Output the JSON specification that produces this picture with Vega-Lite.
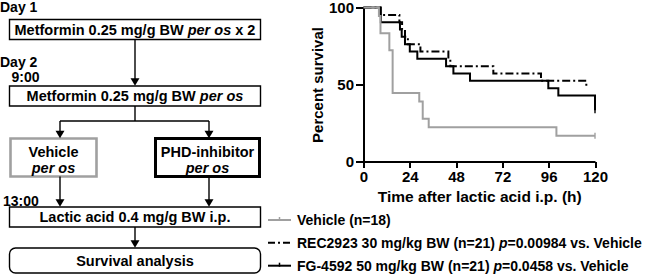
{
  "$schema": "https://vega.github.io/schema/vega-lite/v6.json",
  "width": 231.5,
  "height": 154,
  "autosize": {"type": "none"},
  "padding": {"left": 363.5, "top": 7.5, "right": 55, "bottom": 114.5},
  "background": "white",
  "config": {"view": {"stroke": null}, "font": "Liberation Sans"},
  "datasets": {
    "km": [
      {"group": "Vehicle", "time": 0, "surv": 100},
      {"group": "Vehicle", "time": 8, "surv": 94.4},
      {"group": "Vehicle", "time": 8.8, "surv": 83.3},
      {"group": "Vehicle", "time": 13.4, "surv": 72.2},
      {"group": "Vehicle", "time": 15.1, "surv": 44.4},
      {"group": "Vehicle", "time": 28.9, "surv": 38.9},
      {"group": "Vehicle", "time": 30.7, "surv": 27.8},
      {"group": "Vehicle", "time": 33.8, "surv": 22.2},
      {"group": "Vehicle", "time": 100, "surv": 16.7},
      {"group": "Vehicle", "time": 120, "surv": 16.7},
      {"group": "REC2923", "time": 0, "surv": 100},
      {"group": "REC2923", "time": 9, "surv": 95.2},
      {"group": "REC2923", "time": 18.6, "surv": 90.5},
      {"group": "REC2923", "time": 20, "surv": 85.7},
      {"group": "REC2923", "time": 21.5, "surv": 81},
      {"group": "REC2923", "time": 23, "surv": 76.2},
      {"group": "REC2923", "time": 29.5, "surv": 71.4},
      {"group": "REC2923", "time": 44, "surv": 66.7},
      {"group": "REC2923", "time": 45, "surv": 61.9},
      {"group": "REC2923", "time": 67.3, "surv": 57.1},
      {"group": "REC2923", "time": 92, "surv": 52.4},
      {"group": "REC2923", "time": 115.5, "surv": 47.6},
      {"group": "FG-4592", "time": 0, "surv": 100},
      {"group": "FG-4592", "time": 8.6, "surv": 95.2},
      {"group": "FG-4592", "time": 9, "surv": 90.5},
      {"group": "FG-4592", "time": 18.9, "surv": 85.7},
      {"group": "FG-4592", "time": 19.8, "surv": 81},
      {"group": "FG-4592", "time": 21.5, "surv": 76.2},
      {"group": "FG-4592", "time": 24, "surv": 71.4},
      {"group": "FG-4592", "time": 27.9, "surv": 66.7},
      {"group": "FG-4592", "time": 42.8, "surv": 61.9},
      {"group": "FG-4592", "time": 46.6, "surv": 57.1},
      {"group": "FG-4592", "time": 55.2, "surv": 52.4},
      {"group": "FG-4592", "time": 95.8, "surv": 47.6},
      {"group": "FG-4592", "time": 101, "surv": 42.9},
      {"group": "FG-4592", "time": 120, "surv": 33.3}
    ],
    "censor": [
      {"group": "Vehicle", "time": 120, "surv": 16.7},
      {"group": "FG-4592", "time": 120, "surv": 33.3}
    ],
    "thinBoxes": [
      {"x": 9.5, "x2": 260.5, "y": 19.5, "y2": 39.5},
      {"x": 9.5, "x2": 260.5, "y": 86, "y2": 106},
      {"x": 9.5, "x2": 260.5, "y": 207, "y2": 227}
    ],
    "grayBox": [{"x": 10.5, "x2": 96.5, "y": 138.5, "y2": 176.5}],
    "thickBox": [{"x": 155.5, "x2": 259.5, "y": 138.5, "y2": 176.5}],
    "roundBox": [{"x": 9.5, "x2": 260.5, "y": 248, "y2": 273}],
    "vLines": [
      {"x": 135, "y": 39.5, "y2": 81},
      {"x": 135, "y": 106, "y2": 121},
      {"x": 60, "y": 121, "y2": 134},
      {"x": 209, "y": 121, "y2": 134},
      {"x": 60, "y": 176.5, "y2": 203},
      {"x": 209, "y": 176.5, "y2": 203},
      {"x": 135, "y": 227, "y2": 244}
    ],
    "hLines": [{"x": 60, "x2": 209, "y": 121}],
    "heads": [
      {"x": 135, "y": 82},
      {"x": 60, "y": 134.5},
      {"x": 209, "y": 134.5},
      {"x": 60, "y": 203},
      {"x": 209, "y": 203},
      {"x": 135, "y": 244}
    ],
    "boldCenter": [
      {"x": 53.5, "y": 156.5, "t": "Vehicle"},
      {"x": 207.5, "y": 156.5, "t": "PHD-inhibitor"},
      {"x": 135, "y": 222, "t": "Lactic acid 0.4 mg/g BW i.p."},
      {"x": 135, "y": 265.5, "t": "Survival analysis"}
    ],
    "italicCenter": [
      {"x": 53.5, "y": 172.5, "t": "per os"},
      {"x": 207.5, "y": 172.5, "t": "per os"}
    ],
    "boldLeft": [
      {"x": 14.5, "y": 34.7, "t": "Metformin 0.25 mg/g BW"},
      {"x": 235.2, "y": 34.7, "t": "x 2"},
      {"x": 26.6, "y": 101.2, "t": "Metformin 0.25 mg/g BW"}
    ],
    "italicLeft": [
      {"x": 187.7, "y": 34.7, "t": "per os"},
      {"x": 199.8, "y": 101.2, "t": "per os"}
    ],
    "dayLabels": [
      {"x": 0, "y": 11.7, "t": "Day 1"},
      {"x": 0, "y": 66.7, "t": "Day 2"},
      {"x": 11.5, "y": 81.5, "t": "9:00"},
      {"x": 3, "y": 205.5, "t": "13:00"}
    ],
    "legText": [
      {"x": 297, "y": 225, "t": "Vehicle (n=18)"},
      {"x": 297, "y": 247.7, "t": "REC2923 30 mg/kg BW (n=21)"},
      {"x": 507.5, "y": 247.7, "t": "=0.00984 vs. Vehicle"},
      {"x": 297, "y": 270.7, "t": "FG-4592 50 mg/kg BW (n=21)"},
      {"x": 502, "y": 270.7, "t": "=0.0458 vs. Vehicle"}
    ],
    "legItalic": [
      {"x": 498.9, "y": 247.7, "t": "p"},
      {"x": 493.4, "y": 270.7, "t": "p"}
    ],
    "legGray": [{"x": 268, "x2": 291, "y": 220}],
    "legDash": [{"x": 268, "x2": 291, "y": 242.7}],
    "legSolid": [{"x": 268, "x2": 291, "y": 265.7}],
    "legGrayTick": [{"x": 279.5, "y": 217, "y2": 221}],
    "legSolidTick": [{"x": 279.5, "y": 262.7, "y2": 266.7}]
  },
  "layer": [
    {
      "layer": [
        {
          "data": {"name": "km"},
          "transform": [{"filter": "datum.group === 'REC2923'"}],
          "mark": {"type": "line", "interpolate": "step-after", "color": "black", "strokeWidth": 2, "strokeDash": [8, 3, 2, 3]},
          "encoding": {
            "x": {"field": "time", "type": "quantitative", "scale": {"domain": [0, 120], "nice": false},
              "axis": {"values": [0, 24, 48, 72, 96, 120], "title": "Time after lactic acid i.p. (h)", "grid": false,
                "domainColor": "black", "domainWidth": 2, "tickColor": "black", "tickWidth": 2, "tickSize": 6,
                "labelFont": "Liberation Sans", "labelFontSize": 15, "labelFontWeight": "bold", "labelColor": "black", "labelPadding": 2, "labelFlush": false,
                "titleFont": "Liberation Sans", "titleFontSize": 15.5, "titleFontWeight": "bold", "titleColor": "black", "titlePadding": 5}},
            "y": {"field": "surv", "type": "quantitative", "scale": {"domain": [0, 100], "nice": false},
              "axis": {"values": [0, 25, 50, 75, 100], "title": "Percent survival", "grid": false,
                "domainColor": "black", "domainWidth": 2, "tickColor": "black", "tickWidth": 2, "tickSize": 8,
                "labelFont": "Liberation Sans", "labelFontSize": 15, "labelFontWeight": "bold", "labelColor": "black", "labelPadding": 2, "labelFlush": false,
                "titleFont": "Liberation Sans", "titleFontSize": 15, "titleFontWeight": "bold", "titleColor": "black", "titlePadding": 3}}
          }
        },
        {
          "data": {"name": "km"},
          "transform": [{"filter": "datum.group === 'FG-4592'"}],
          "mark": {"type": "line", "interpolate": "step-after", "color": "black", "strokeWidth": 2},
          "encoding": {
            "x": {"field": "time", "type": "quantitative"},
            "y": {"field": "surv", "type": "quantitative"}
          }
        },
        {
          "data": {"name": "km"},
          "transform": [{"filter": "datum.group === 'Vehicle'"}],
          "mark": {"type": "line", "interpolate": "step-after", "color": "#a0a0a0", "strokeWidth": 2},
          "encoding": {
            "x": {"field": "time", "type": "quantitative"},
            "y": {"field": "surv", "type": "quantitative"}
          }
        },
        {
          "data": {"name": "censor"},
          "mark": {"type": "tick", "orient": "vertical", "size": 6, "thickness": 2},
          "encoding": {
            "x": {"field": "time", "type": "quantitative"},
            "y": {"field": "surv", "type": "quantitative"},
            "color": {"field": "group", "type": "nominal", "scale": {"domain": ["Vehicle", "FG-4592"], "range": ["#a0a0a0", "black"]}, "legend": null}
          }
        }
      ]
    },
    {
      "layer": [
        {
          "data": {"name": "thinBoxes"},
          "mark": {"type": "rect", "fill": "white", "stroke": "black", "strokeWidth": 1.4},
          "encoding": {
            "x": {"field": "x", "type": "quantitative", "scale": {"domain": [363.5, 595], "nice": false, "zero": false}, "axis": null},
            "x2": {"field": "x2"},
            "y": {"field": "y", "type": "quantitative", "scale": {"domain": [7.5, 161.5], "reverse": true, "nice": false, "zero": false}, "axis": null},
            "y2": {"field": "y2"}
          }
        },
        {
          "data": {"name": "grayBox"},
          "mark": {"type": "rect", "fill": "white", "stroke": "#a0a0a0", "strokeWidth": 2.6},
          "encoding": {
            "x": {"field": "x", "type": "quantitative", "axis": null},
            "x2": {"field": "x2"},
            "y": {"field": "y", "type": "quantitative", "axis": null},
            "y2": {"field": "y2"}
          }
        },
        {
          "data": {"name": "thickBox"},
          "mark": {"type": "rect", "fill": "white", "stroke": "black", "strokeWidth": 3},
          "encoding": {
            "x": {"field": "x", "type": "quantitative", "axis": null},
            "x2": {"field": "x2"},
            "y": {"field": "y", "type": "quantitative", "axis": null},
            "y2": {"field": "y2"}
          }
        },
        {
          "data": {"name": "roundBox"},
          "mark": {"type": "rect", "fill": "white", "stroke": "black", "strokeWidth": 1.4, "cornerRadius": 6},
          "encoding": {
            "x": {"field": "x", "type": "quantitative", "axis": null},
            "x2": {"field": "x2"},
            "y": {"field": "y", "type": "quantitative", "axis": null},
            "y2": {"field": "y2"}
          }
        },
        {
          "data": {"name": "vLines"},
          "mark": {"type": "rule", "color": "black", "strokeWidth": 1.4},
          "encoding": {
            "x": {"field": "x", "type": "quantitative", "axis": null},
            "y": {"field": "y", "type": "quantitative", "axis": null},
            "y2": {"field": "y2"}
          }
        },
        {
          "data": {"name": "hLines"},
          "mark": {"type": "rule", "color": "black", "strokeWidth": 1.4},
          "encoding": {
            "x": {"field": "x", "type": "quantitative", "axis": null},
            "x2": {"field": "x2"},
            "y": {"field": "y", "type": "quantitative", "axis": null}
          }
        },
        {
          "data": {"name": "heads"},
          "mark": {"type": "point", "shape": "triangle-down", "filled": true, "color": "black", "size": 80, "opacity": 1},
          "encoding": {
            "x": {"field": "x", "type": "quantitative", "axis": null},
            "y": {"field": "y", "type": "quantitative", "axis": null}
          }
        },
        {
          "data": {"name": "boldCenter"},
          "mark": {"type": "text", "font": "Liberation Sans", "fontWeight": "bold", "fontSize": 14.5, "align": "center", "baseline": "alphabetic", "color": "black"},
          "encoding": {
            "x": {"field": "x", "type": "quantitative", "axis": null},
            "y": {"field": "y", "type": "quantitative", "axis": null},
            "text": {"field": "t"}
          }
        },
        {
          "data": {"name": "italicCenter"},
          "mark": {"type": "text", "font": "Liberation Sans", "fontWeight": "bold", "fontStyle": "italic", "fontSize": 14.5, "align": "center", "baseline": "alphabetic", "color": "black"},
          "encoding": {
            "x": {"field": "x", "type": "quantitative", "axis": null},
            "y": {"field": "y", "type": "quantitative", "axis": null},
            "text": {"field": "t"}
          }
        },
        {
          "data": {"name": "boldLeft"},
          "mark": {"type": "text", "font": "Liberation Sans", "fontWeight": "bold", "fontSize": 14.5, "align": "left", "baseline": "alphabetic", "color": "black"},
          "encoding": {
            "x": {"field": "x", "type": "quantitative", "axis": null},
            "y": {"field": "y", "type": "quantitative", "axis": null},
            "text": {"field": "t"}
          }
        },
        {
          "data": {"name": "italicLeft"},
          "mark": {"type": "text", "font": "Liberation Sans", "fontWeight": "bold", "fontStyle": "italic", "fontSize": 14.5, "align": "left", "baseline": "alphabetic", "color": "black"},
          "encoding": {
            "x": {"field": "x", "type": "quantitative", "axis": null},
            "y": {"field": "y", "type": "quantitative", "axis": null},
            "text": {"field": "t"}
          }
        },
        {
          "data": {"name": "dayLabels"},
          "mark": {"type": "text", "font": "Liberation Sans", "fontWeight": "bold", "fontSize": 14, "align": "left", "baseline": "alphabetic", "color": "black"},
          "encoding": {
            "x": {"field": "x", "type": "quantitative", "axis": null},
            "y": {"field": "y", "type": "quantitative", "axis": null},
            "text": {"field": "t"}
          }
        },
        {
          "data": {"name": "legText"},
          "mark": {"type": "text", "font": "Liberation Sans", "fontWeight": "bold", "fontSize": 14, "align": "left", "baseline": "alphabetic", "color": "black"},
          "encoding": {
            "x": {"field": "x", "type": "quantitative", "axis": null},
            "y": {"field": "y", "type": "quantitative", "axis": null},
            "text": {"field": "t"}
          }
        },
        {
          "data": {"name": "legItalic"},
          "mark": {"type": "text", "font": "Liberation Sans", "fontWeight": "bold", "fontStyle": "italic", "fontSize": 14, "align": "left", "baseline": "alphabetic", "color": "black"},
          "encoding": {
            "x": {"field": "x", "type": "quantitative", "axis": null},
            "y": {"field": "y", "type": "quantitative", "axis": null},
            "text": {"field": "t"}
          }
        },
        {
          "data": {"name": "legGray"},
          "mark": {"type": "rule", "color": "#a0a0a0", "strokeWidth": 2},
          "encoding": {
            "x": {"field": "x", "type": "quantitative", "axis": null},
            "x2": {"field": "x2"},
            "y": {"field": "y", "type": "quantitative", "axis": null}
          }
        },
        {
          "data": {"name": "legGrayTick"},
          "mark": {"type": "rule", "color": "#a0a0a0", "strokeWidth": 1.5},
          "encoding": {
            "x": {"field": "x", "type": "quantitative", "axis": null},
            "y": {"field": "y", "type": "quantitative", "axis": null},
            "y2": {"field": "y2"}
          }
        },
        {
          "data": {"name": "legDash"},
          "mark": {"type": "rule", "color": "black", "strokeWidth": 2, "strokeDash": [7, 3, 2, 3]},
          "encoding": {
            "x": {"field": "x", "type": "quantitative", "axis": null},
            "x2": {"field": "x2"},
            "y": {"field": "y", "type": "quantitative", "axis": null}
          }
        },
        {
          "data": {"name": "legSolid"},
          "mark": {"type": "rule", "color": "black", "strokeWidth": 2},
          "encoding": {
            "x": {"field": "x", "type": "quantitative", "axis": null},
            "x2": {"field": "x2"},
            "y": {"field": "y", "type": "quantitative", "axis": null}
          }
        },
        {
          "data": {"name": "legSolidTick"},
          "mark": {"type": "rule", "color": "black", "strokeWidth": 1.5},
          "encoding": {
            "x": {"field": "x", "type": "quantitative", "axis": null},
            "y": {"field": "y", "type": "quantitative", "axis": null},
            "y2": {"field": "y2"}
          }
        }
      ]
    }
  ],
  "resolve": {"scale": {"x": "independent", "y": "independent"}}
}
